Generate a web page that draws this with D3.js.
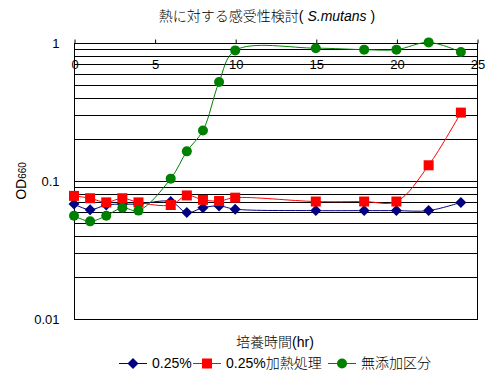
<!DOCTYPE html>
<html><head><meta charset="utf-8">
<script src="https://cdn.jsdelivr.net/npm/d3@7"></script>
<style>
body{margin:0;background:#fff;}
text{font-family:"Liberation Sans","Noto Sans CJK JP",sans-serif;fill:#000;}
</style></head>
<body><svg id="c" width="503" height="378"></svg>
<script>
const times = [0,1,2,3,4,6,7,8,9,10,15,18,20,22,24];
const s025 = [0.068,0.062,0.067,0.068,0.068,0.071,0.059,0.064,0.066,0.0625,0.061,0.061,0.061,0.061,0.070];
const s025heat = [0.078,0.075,0.070,0.075,0.070,0.067,0.0786,0.073,0.0716,0.0757,0.071,0.071,0.071,0.130,0.313];
const sNone = [0.056,0.051,0.056,0.064,0.061,0.104,0.164,0.232,0.522,0.884,0.917,0.895,0.895,1.01,0.861];
const seriesNames = ["0.25%","0.25%加熱処理","無添加区分"];
const xTicks = [0,5,10,15,20,25];
const yTicks = [0.01,0.1,1];

const svg = d3.select("#c");
const x = d3.scaleLinear().domain([0,25]).range([74,477]);
const y = d3.scaleLog().domain([0.01,1]).range([319,43]);

// gridlines
const minor = [];
[0.01,0.1].forEach(d=>{for(let i=1;i<=10;i++) minor.push(d*i);});
svg.append("g").selectAll("line").data(minor).join("line")
  .attr("x1",x(0)).attr("x2",x(25))
  .attr("y1",d=>Math.round(y(d))+0.5).attr("y2",d=>Math.round(y(d))+0.5)
  .attr("stroke","#000").attr("stroke-width",1);
// frame
svg.append("rect").attr("x",x(0)+0.5).attr("y",Math.round(y(1))+0.5)
  .attr("width",x(25)-x(0)).attr("height",Math.round(y(0.01))-Math.round(y(1)))
  .attr("fill","none").attr("stroke","#000");

// x axis at top
const xa = svg.append("g").attr("transform",`translate(0.5,${Math.round(y(1))+0.5})`)
  .call(d3.axisTop(x).tickValues(xTicks).tickSize(4).tickFormat(d3.format("d")));
xa.select(".domain").remove();
xa.selectAll("line").attr("stroke","#000");
xa.selectAll("text").attr("y",21).attr("dy","0.35em").attr("font-size",13)
  .style("font-family","Liberation Sans");

// y axis
const ya = svg.append("g").attr("transform",`translate(${x(0)+0.5},0)`)
  .call(d3.axisLeft(y).tickValues(yTicks).tickSize(0).tickPadding(15).tickFormat(d=>String(d)));
ya.select(".domain").remove();
ya.selectAll("text").attr("font-size",13).style("font-family","Liberation Sans");

const data = [
  {name:seriesNames[0], vals:s025, color:"#000080", shape:"diamond"},
  {name:seriesNames[1], vals:s025heat, color:"#FF0000", shape:"square"},
  {name:seriesNames[2], vals:sNone, color:"#008000", shape:"circle"}
];
const line = d3.line().x((d,i)=>x(times[i])).y(d=>y(d)).curve(d3.curveCatmullRom.alpha(0.5));
function marker(g, shape, color){
  if(shape==="diamond") g.append("path").attr("d","M0,-5.5L5.5,0L0,5.5L-5.5,0Z").attr("fill",color);
  else if(shape==="square") g.append("rect").attr("x",-5).attr("y",-5).attr("width",10).attr("height",10).attr("fill",color);
  else g.append("circle").attr("r",5).attr("fill",color);
}
data.forEach(s=>{
  svg.append("path").datum(s.vals).attr("d",line).attr("fill","none").attr("stroke",s.color).attr("stroke-width",1);
});
data.forEach(s=>{
  s.vals.forEach((v,i)=>{
    const g = svg.append("g").attr("transform",`translate(${x(times[i])},${y(v)})`);
    marker(g,s.shape,s.color);
  });
});

// title
const t = svg.append("text").attr("x",267).attr("y",21).attr("text-anchor","middle").attr("font-size",14).attr("font-weight",300);
t.append("tspan").text("熱に対する感受性検討( ");
t.append("tspan").attr("font-style","italic").text("S.mutans");
t.append("tspan").text(" )");

// x title
svg.append("text").attr("x",275).attr("y",347).attr("text-anchor","middle").attr("font-size",14).attr("font-weight",300).text("培養時間(hr)");
// y title
const yt = svg.append("text").attr("transform","translate(26,181) rotate(-90)").attr("text-anchor","middle").attr("font-size",14).attr("font-weight",300);
yt.append("tspan").text("OD");
yt.append("tspan").attr("font-size",10).text("660");

// legend
const legX = [119,193,328];
data.forEach((s,i)=>{
  const g = svg.append("g").attr("transform",`translate(${legX[i]},363)`);
  g.append("line").attr("x1",0).attr("x2",28).attr("y1",0.5).attr("y2",0.5).attr("stroke",s.color);
  const m = g.append("g").attr("transform","translate(14,0.5)");
  marker(m,s.shape,s.color);
  g.append("text").attr("x",33).attr("y",0).attr("dy","0.38em").attr("font-size",14).attr("font-weight",300).text(s.name);
});
</script></body></html>
